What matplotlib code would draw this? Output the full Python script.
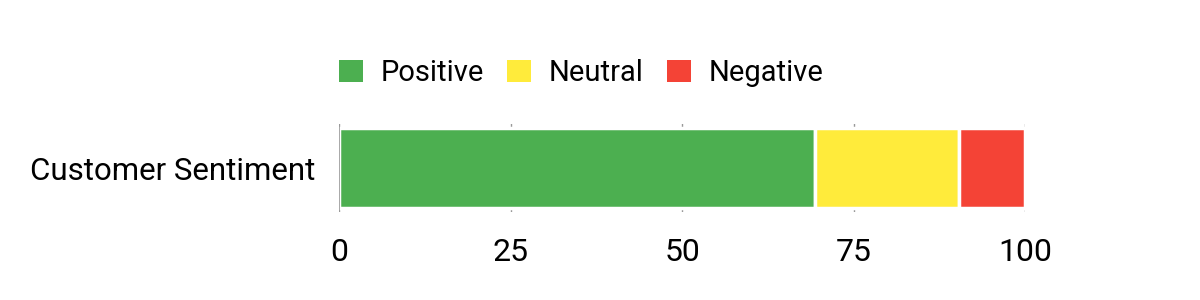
import matplotlib
matplotlib.use("Agg")
import matplotlib.pyplot as plt
from matplotlib.patches import Patch

plt.rcParams['font.family'] = ['Roboto', 'DejaVu Sans']

categories = ["Customer Sentiment"]
series_names = ["Positive", "Neutral", "Negative"]
positive = [69.4]
neutral = [20.9]
negative = [9.7]
colors = ["#4CAF50", "#FFEB3B", "#F44336"]
xticks = [0, 25, 50, 75, 100]

fig = plt.figure(figsize=(12, 3), dpi=100)
ax = fig.add_axes([339/1200, 1-212/300, (1025.3-339)/1200, 88/300])

left = [0.0]*len(categories)
for name, vals, c in zip(series_names, [positive, neutral, negative], colors):
    ax.barh(categories, vals, left=left, height=0.9, color=c, edgecolor="white",
            linewidth=2.5, label=name, zorder=2)
    left = [l + v for l, v in zip(left, vals)]

ax.set_xlim(0, 100)
ax.set_ylim(-0.5, 0.5)
ax.set_xticks(xticks)
ax.set_xticklabels([str(t) for t in xticks])
ax.grid(axis="x", color="#999999", linewidth=1.0, zorder=0)
ax.set_axisbelow(True)
ax.axvline(0, color="#999999", linewidth=1.2, zorder=3)
for s in ax.spines.values():
    s.set_visible(False)
ax.tick_params(axis="x", length=0, pad=19, labelsize=23, labelcolor="#000000")
ax.tick_params(axis="y", length=0, pad=17, labelsize=22.5, labelcolor="#000000")

handles = [Patch(facecolor=c, edgecolor="none") for c in colors]
leg = fig.legend(handles, series_names, loc="center left",
                 bbox_to_anchor=(339/1200, 1-73/300), ncol=3, frameon=False,
                 fontsize=21, handlelength=0.82, handleheight=0.82,
                 handletextpad=0.6, columnspacing=0.8, borderpad=0, borderaxespad=0)

fig.savefig("out.png", dpi=100, facecolor="white")
